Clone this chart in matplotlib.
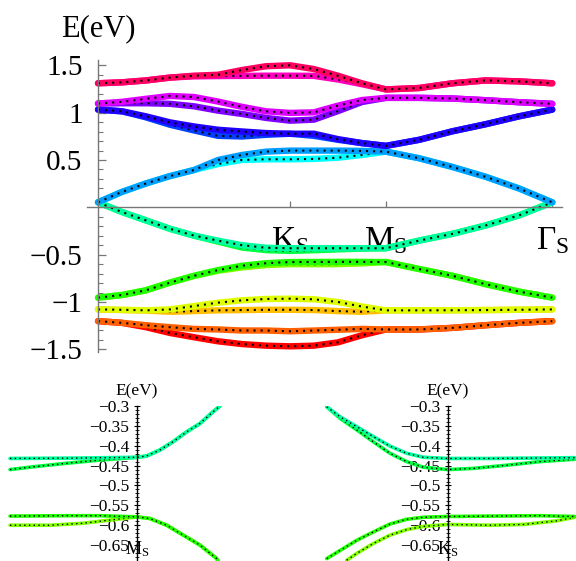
import matplotlib
matplotlib.use("Agg")
import matplotlib.pyplot as plt
from matplotlib.colors import hsv_to_rgb
from matplotlib.ticker import FixedLocator, FixedFormatter, MultipleLocator

plt.rcParams['font.family'] = ['Liberation Serif', 'DejaVu Serif']
plt.rcParams['mathtext.fontset'] = 'custom'
plt.rcParams['mathtext.rm'] = 'Liberation Serif'
plt.rcParams['mathtext.it'] = 'Liberation Serif:italic'

# Chemin Gamma - K - M - Gamma (longueurs relatives du reseau hexagonal)
k_main = [0.0, 0.125, 0.25, 0.375, 0.5, 0.625, 0.75, 0.875, 1.0,
          1.125, 1.25, 1.375, 1.5, 1.673, 1.846, 2.02, 2.193, 2.366]
k_ticks = [1.0, 1.5, 2.366]
k_labels = [r'$\mathrm{K}_\mathrm{S}$', r'$\mathrm{M}_\mathrm{S}$', r'$\mathrm{\Gamma}_\mathrm{S}$']

e_ticks = [1.5, 1.0, 0.5, -0.5, -1.0, -1.5]
e_labels = ['1.5', '1', '0.5', '\u22120.5', '\u22121', '\u22121.5']

# Bandes (eV), de la plus basse (rouge) a la plus haute (rose)
band_00 = [-1.202, -1.220, -1.266, -1.327, -1.372, -1.415, -1.444, -1.461, -1.468,
           -1.461, -1.426, -1.351, -1.290, -1.290, -1.273, -1.245, -1.220, -1.202]
band_01 = [-1.202, -1.220, -1.245, -1.266, -1.284, -1.290, -1.301, -1.301, -1.309,
           -1.301, -1.293, -1.284, -1.290, -1.290, -1.273, -1.245, -1.220, -1.202]
band_02 = [-1.078, -1.085, -1.090, -1.103, -1.096, -1.088, -1.085, -1.082, -1.082,
           -1.085, -1.096, -1.103, -1.088, -1.088, -1.087, -1.085, -1.082, -1.078]
band_03 = [-1.078, -1.082, -1.088, -1.078, -1.043, -1.007, -0.982, -0.968, -0.965,
           -0.971, -1.000, -1.048, -1.088, -1.088, -1.087, -1.085, -1.082, -1.078]
band_04 = [-0.954, -0.926, -0.876, -0.795, -0.725, -0.670, -0.635, -0.610, -0.600,
           -0.601, -0.600, -0.592, -0.578, -0.652, -0.723, -0.812, -0.890, -0.954]
band_05 = [-0.954, -0.926, -0.876, -0.795, -0.723, -0.663, -0.617, -0.590, -0.578,
           -0.577, -0.576, -0.576, -0.578, -0.652, -0.723, -0.812, -0.890, -0.954]
band_06 = [0.053, -0.050, -0.138, -0.227, -0.300, -0.362, -0.425, -0.452, -0.460,
           -0.453, -0.444, -0.436, -0.432, -0.351, -0.280, -0.191, -0.085, 0.053]
band_07 = [0.053, -0.050, -0.138, -0.227, -0.298, -0.352, -0.400, -0.427, -0.432,
           -0.432, -0.432, -0.432, -0.432, -0.351, -0.280, -0.191, -0.085, 0.053]
band_08 = [0.053, 0.163, 0.252, 0.330, 0.394, 0.457, 0.500, 0.507, 0.507,
           0.511, 0.524, 0.553, 0.588, 0.518, 0.426, 0.322, 0.199, 0.053]
band_09 = [0.053, 0.163, 0.252, 0.330, 0.394, 0.500, 0.553, 0.588, 0.599,
           0.599, 0.599, 0.596, 0.588, 0.518, 0.426, 0.322, 0.199, 0.053]
band_10 = [1.032, 1.014, 0.950, 0.872, 0.812, 0.755, 0.748, 0.766, 0.777,
           0.755, 0.713, 0.678, 0.649, 0.713, 0.803, 0.878, 0.961, 1.032]
band_11 = [1.032, 1.014, 0.961, 0.897, 0.854, 0.819, 0.801, 0.784, 0.777,
           0.777, 0.720, 0.678, 0.649, 0.713, 0.803, 0.878, 0.961, 1.032]
band_12 = [1.096, 1.099, 1.099, 1.093, 1.067, 1.021, 0.986, 0.944, 0.915,
           0.926, 1.016, 1.112, 1.156, 1.156, 1.149, 1.131, 1.110, 1.093]
band_13 = [1.096, 1.114, 1.146, 1.176, 1.165, 1.117, 1.061, 1.014, 0.997,
           1.003, 1.074, 1.133, 1.156, 1.156, 1.149, 1.131, 1.110, 1.093]
band_14 = [1.310, 1.320, 1.340, 1.370, 1.383, 1.386, 1.388, 1.390, 1.390,
           1.388, 1.350, 1.300, 1.245, 1.260, 1.310, 1.340, 1.330, 1.310]
band_15 = [1.310, 1.320, 1.340, 1.370, 1.390, 1.400, 1.450, 1.490, 1.500,
           1.460, 1.390, 1.310, 1.245, 1.260, 1.310, 1.340, 1.330, 1.310]

# Zoom autour de M (encart gauche) : k relatif a M
kl_07 = [-1.27, -0.60, 0.0, 0.094, 0.227, 0.36, 0.497, 0.63, 0.763, 0.83]
el_07 = [-0.432, -0.431, -0.429, -0.426, -0.411, -0.390, -0.365, -0.344, -0.314, -0.300]
kl_06 = [-1.27, -1.04, -0.70, -0.37, -0.04, 0.0, 0.094, 0.227, 0.36, 0.497, 0.63, 0.763, 0.83]
el_06 = [-0.460, -0.453, -0.444, -0.436, -0.430, -0.429, -0.426, -0.411, -0.390, -0.365,
         -0.344, -0.314, -0.300]
kl_05 = [-1.27, -0.70, -0.37, 0.0, 0.127, 0.297, 0.463, 0.63, 0.797, 0.82]
el_05 = [-0.577, -0.576, -0.576, -0.579, -0.583, -0.600, -0.625, -0.650, -0.684, -0.695]
kl_04 = [-1.27, -0.87, -0.54, -0.27, 0.0, 0.127, 0.297, 0.463, 0.63, 0.797, 0.82]
el_04 = [-0.600, -0.600, -0.595, -0.587, -0.579, -0.583, -0.600, -0.625, -0.650, -0.684, -0.695]

# Zoom autour de K (encart droit) : k relatif a K
kr_07 = [-1.21, -1.077, -0.91, -0.744, -0.577, -0.41, -0.244, 0.0, 0.42, 1.27]
er_07 = [-0.302, -0.327, -0.352, -0.377, -0.401, -0.419, -0.429, -0.432, -0.432, -0.430]
kr_06 = [-1.21, -1.077, -0.91, -0.744, -0.577, -0.41, -0.244, 0.0, 0.256, 0.59, 0.92, 1.27]
er_06 = [-0.302, -0.331, -0.360, -0.390, -0.419, -0.440, -0.454, -0.460, -0.457, -0.449,
         -0.440, -0.434]
kr_05 = [-1.21, -0.91, -0.744, -0.577, -0.41, -0.244, 0.0, 0.42, 0.92, 1.27]
er_05 = [-0.684, -0.638, -0.617, -0.597, -0.585, -0.580, -0.578, -0.577, -0.576, -0.578]
kr_04 = [-1.01, -0.91, -0.744, -0.577, -0.41, -0.244, 0.0, 0.42, 0.76, 1.09, 1.27]
er_04 = [-0.688, -0.671, -0.646, -0.625, -0.611, -0.603, -0.598, -0.600, -0.598, -0.589, -0.580]

inset_ticks = [-0.3, -0.35, -0.4, -0.45, -0.5, -0.55, -0.6, -0.65]
inset_labels = ['\u22120.3', '\u22120.35', '\u22120.4', '\u22120.45', '\u22120.5',
                '\u22120.55', '\u22120.6', '\u22120.65']

bands = [band_00, band_01, band_02, band_03, band_04, band_05, band_06, band_07,
         band_08, band_09, band_10, band_11, band_12, band_13, band_14, band_15]


def couleur(i):
    # teinte facon Hue[] de Mathematica, une par bande
    return hsv_to_rgb([i / 16.0, 1.0, 1.0])


def trace(ax, k, e, c, lw, lw_pts):
    ax.plot(k, e, color=c, lw=lw, solid_capstyle='round', solid_joinstyle='round')
    ax.plot(k, e, color='black', lw=lw_pts, ls=(0, (1, 2.4)))


W, H = 576, 561
fig = plt.figure(figsize=(W / 100, H / 100), dpi=100)

# Graphique principal
ax = fig.add_axes([87 / W, (H - 352.2) / H, 475 / W, 292.6 / H])
ax.set_xlim(-0.0573, 2.4167)
ax.set_ylim(-1.53, 1.56)
for i, e in enumerate(bands):
    trace(ax, k_main, e, couleur(i), 4.6, 1.5)

for s in ['top', 'right']:
    ax.spines[s].set_visible(False)
ax.spines['left'].set_position(('data', 0))
ax.spines['bottom'].set_position(('data', 0))
for s in ['left', 'bottom']:
    ax.spines[s].set_color('#777777')
    ax.spines[s].set_linewidth(1.0)
ax.yaxis.set_major_locator(FixedLocator(e_ticks))
ax.yaxis.set_major_formatter(FixedFormatter(e_labels))
ax.yaxis.set_minor_locator(MultipleLocator(0.1))
ax.tick_params(axis='y', which='major', direction='in', length=6, width=0.9,
               color='#777777', labelsize=21, pad=11)
ax.tick_params(axis='y', which='minor', direction='in', length=3.5, width=0.8,
               color='#777777')
ax.xaxis.set_major_locator(FixedLocator(k_ticks))
ax.xaxis.set_major_formatter(FixedFormatter(k_labels))
ax.tick_params(axis='x', which='major', direction='in', length=4, width=0.9,
               color='#777777', labelsize=24, pad=13)
ax.patch.set_alpha(0)
ax.text(0, 1.809, 'E(eV)', fontsize=22, ha='center', va='baseline', clip_on=False)

# Encarts
def encart(rect, xlim, courbes, label):
    a = fig.add_axes(rect)
    a.set_xlim(*xlim)
    a.set_ylim(-0.69, -0.3)
    for k, e, i in courbes:
        trace(a, k, e, couleur(i), 2.6, 1.0)
    for s in ['top', 'right', 'bottom']:
        a.spines[s].set_visible(False)
    a.spines['left'].set_position(('data', 0))
    a.spines['left'].set_color('black')
    a.spines['left'].set_linewidth(1.0)
    a.set_xticks([])
    a.yaxis.set_major_locator(FixedLocator(inset_ticks))
    a.yaxis.set_major_formatter(FixedFormatter(inset_labels))
    a.yaxis.set_minor_locator(MultipleLocator(0.01))
    a.tick_params(axis='y', which='major', direction='inout', length=5, width=0.8,
                  labelsize=12.5, pad=3)
    a.tick_params(axis='y', which='minor', direction='inout', length=3, width=0.6)
    a.patch.set_alpha(0)
    a.text(0, -0.273, 'E(eV)', fontsize=12.5, ha='center', va='baseline', clip_on=False)
    a.text(0, -0.672, label, fontsize=13, ha='center', va='baseline')
    return a


encart([8 / W, 0, 282 / W, 155 / H], (-1.29, 1.53),
       [(kl_04, el_04, 4), (kl_05, el_05, 5), (kl_06, el_06, 6), (kl_07, el_07, 7)],
       r'$\mathrm{M}_\mathrm{S}$')
encart([298 / W, 0, 278 / W, 155 / H], (-1.497, 1.283),
       [(kr_04, er_04, 4), (kr_05, er_05, 5), (kr_06, er_06, 6), (kr_07, er_07, 7)],
       r'$\mathrm{K}_\mathrm{S}$')

fig.savefig('out.png', dpi=100)
